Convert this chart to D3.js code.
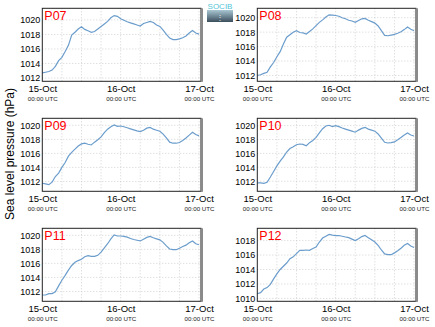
<!DOCTYPE html>
<html><head><meta charset="utf-8">
<script src="https://cdn.jsdelivr.net/npm/d3@7"></script>
<style>body{margin:0;background:#fff}svg{display:block}</style>
</head><body>
<svg id="c" width="435" height="327"></svg>
<script>
const stations = ["P07","P08","P09","P10","P11","P12"];
const hours = d3.range(0, 49); // hourly from 15-Oct 00:00 UTC
const p07 = [1012.7,1012.8,1012.9,1013.1,1013.6,1014.4,1014.85,1015.65,1016.5,1017.9,1018.3,1018.75,1019.05,1018.7,1018.5,1018.3,1018.4,1018.75,1019.1,1019.45,1019.8,1020.3,1020.6,1020.5,1020.15,1019.95,1019.75,1019.6,1019.45,1019.3,1019.15,1019.5,1019.65,1019.8,1019.65,1019.3,1019.1,1018.6,1018.0,1017.5,1017.3,1017.3,1017.4,1017.55,1017.8,1018.2,1018.55,1018.2,1018.05];
const p08 = [1012.0,1012.1,1012.3,1012.45,1013.2,1013.8,1014.6,1015.3,1016.35,1017.3,1017.65,1018.0,1018.2,1017.95,1017.9,1017.75,1018.1,1018.45,1018.9,1019.35,1019.7,1020.1,1020.4,1020.35,1020.3,1020.2,1020.0,1019.85,1019.65,1019.55,1019.35,1019.6,1019.85,1019.9,1019.65,1019.45,1019.25,1018.85,1018.2,1017.55,1017.5,1017.6,1017.7,1017.85,1018.05,1018.35,1018.7,1018.4,1018.2];
const p09 = [1011.75,1011.65,1011.55,1011.9,1012.7,1013.2,1014.0,1014.7,1015.6,1016.15,1016.6,1017.05,1017.35,1017.45,1017.3,1017.2,1017.6,1017.95,1018.35,1018.95,1019.45,1019.8,1020.05,1019.85,1019.9,1019.8,1019.65,1019.5,1019.35,1019.2,1019.1,1019.3,1019.6,1019.7,1019.45,1019.3,1019.15,1018.75,1018.2,1017.6,1017.45,1017.45,1017.55,1017.85,1018.2,1018.6,1019.0,1018.7,1018.5];
const p10 = [1011.75,1011.75,1011.7,1011.85,1012.6,1013.4,1014.2,1014.9,1015.5,1016.2,1016.7,1016.95,1017.25,1017.35,1017.3,1017.1,1017.55,1017.85,1018.3,1018.95,1019.55,1019.95,1020.05,1019.85,1020.0,1019.85,1019.65,1019.5,1019.35,1019.2,1019.05,1019.35,1019.6,1019.75,1019.5,1019.35,1019.2,1018.8,1018.2,1017.6,1017.5,1017.55,1017.65,1017.95,1018.3,1018.65,1018.95,1018.65,1018.5];
const p11 = [1011.5,1011.5,1011.7,1011.7,1011.95,1012.8,1013.6,1014.3,1015.05,1015.7,1016.15,1016.4,1016.6,1016.95,1017.1,1017.0,1017.0,1017.15,1017.6,1018.2,1018.8,1019.5,1020.05,1019.9,1019.9,1019.85,1019.75,1019.55,1019.4,1019.3,1019.2,1019.45,1019.7,1019.85,1019.65,1019.5,1019.35,1019.0,1018.5,1018.05,1017.95,1017.95,1018.15,1018.4,1018.6,1018.95,1019.2,1018.8,1018.65];
const p12 = [1010.65,1010.8,1011.3,1011.5,1011.95,1012.7,1013.4,1014.0,1014.45,1014.9,1015.5,1015.75,1016.2,1016.65,1016.65,1016.7,1016.65,1016.9,1017.1,1017.8,1018.35,1018.6,1018.85,1018.75,1018.7,1018.7,1018.6,1018.5,1018.4,1018.2,1018.0,1018.25,1018.55,1018.7,1018.4,1018.1,1017.8,1017.35,1016.7,1016.15,1016.05,1016.05,1016.3,1016.6,1016.95,1017.35,1017.6,1017.25,1017.05];
const series = [p07,p08,p09,p10,p11,p12];
const yDomains = [[1011.55,1021.6],[1011.2,1021.3],[1010.6,1021.0],[1010.55,1021.05],[1010.6,1021.0],[1009.6,1019.7]];
const yTicks = [[1012,1014,1016,1018,1020],[1012,1014,1016,1018,1020],[1012,1014,1016,1018,1020],[1012,1014,1016,1018,1020],[1012,1014,1016,1018,1020],[1010,1012,1014,1016,1018]];
const xTickLabels = ["15-Oct","16-Oct","17-Oct"];
const xTickSub = "00:00 UTC";
const yTitle = "Sea level pressure (hPa)";

const t0 = Date.UTC(2013, 9, 15);
const H = 3600e3;
const svg = d3.select("#c");
const font = "Liberation Sans, Arial, sans-serif";

const defs = svg.append("defs");
const lg = defs.append("linearGradient").attr("id","lg").attr("x1",0).attr("y1",0).attr("x2",0).attr("y2",1);
lg.append("stop").attr("offset","0%").attr("stop-color","#a9c6d3");
lg.append("stop").attr("offset","100%").attr("stop-color","#3b4e5c");

const W = 158.7, Hh = 73;
const lefts = [42.3, 257.3], tops = [8.3, 118.3, 228.3];

stations.forEach((name, i) => {
  const col = i % 2, row = Math.floor(i / 2);
  const g = svg.append("g").attr("transform", `translate(${lefts[col]},${tops[row]})`);
  const x = d3.scaleUtc().domain([new Date(t0), new Date(t0 + 48.6 * H)]).range([0, W]);
  const y = d3.scaleLinear().domain(yDomains[i]).range([Hh, 0]);
  // grid
  const vg = d3.range(6, 48.1, 6).map(h => new Date(t0 + h * H));
  g.selectAll(".vg").data(vg).join("line")
    .attr("x1", d => x(d)).attr("x2", d => x(d)).attr("y1", 0).attr("y2", Hh)
    .attr("stroke", "#c8c8c8").attr("stroke-width", 0.8).attr("stroke-dasharray", "1,2");
  g.selectAll(".hg").data(yTicks[i]).join("line")
    .attr("x1", 0).attr("x2", W).attr("y1", d => y(d)).attr("y2", d => y(d))
    .attr("stroke", "#c8c8c8").attr("stroke-width", 0.8).attr("stroke-dasharray", "1,2");
  // line
  const data = hours.map((h, k) => ({t: new Date(t0 + h * H), v: series[i][k]}));
  g.append("path").datum(data)
    .attr("fill", "none").attr("stroke", "#6b9dcc").attr("stroke-width", 1.2)
    .attr("d", d3.line().x(d => x(d.t)).y(d => y(d.v)));
  // frame
  g.append("rect").attr("x", 0).attr("y", 0).attr("width", W).attr("height", Hh)
    .attr("fill", "none").attr("stroke", "#222").attr("stroke-width", 1);
  g.append("line").attr("x1", W + 0.8).attr("x2", W + 0.8).attr("y1", 0).attr("y2", Hh + 0.5)
    .attr("stroke", "#8a8a8a").attr("stroke-width", 2.4);
  // y axis
  const ya = d3.axisLeft(y).tickValues(yTicks[i]).tickSize(0).tickPadding(2).tickFormat(d3.format("d"));
  const yg = g.append("g").call(ya);
  yg.select(".domain").remove();
  yg.selectAll("text").attr("font-size", 9).attr("font-family", font).attr("fill", "#000");
  // x axis
  const xt = [0, 24, 48].map(h => new Date(t0 + h * H));
  const xa = d3.axisBottom(x).tickValues(xt).tickSize(0).tickPadding(0).tickFormat((d, k) => xTickLabels[k]);
  const xg = g.append("g").attr("transform", `translate(0,${Hh})`).call(xa);
  xg.select(".domain").remove();
  xg.selectAll("text").attr("font-size", 9.5).attr("font-family", font).attr("fill", "#000").attr("dy", null).attr("y", 11);
  xg.selectAll(".tick").append("text").attr("y", 20).attr("text-anchor", "middle")
    .attr("font-size", 6.2).attr("font-family", font).attr("fill", "#222").text(xTickSub);
  // station label
  g.append("text").attr("x", 2).attr("y", 12).attr("font-size", 12.5).attr("font-family", font)
    .attr("fill", "#ff0000").text(name);
});

svg.append("text").attr("transform", "translate(14,154) rotate(-90)")
  .attr("text-anchor", "middle").attr("font-size", 12).attr("font-family", font).attr("fill", "#000")
  .text(yTitle);

// logo
const lgG = svg.append("g");
lgG.append("rect").attr("x", 207).attr("y", 10).attr("width", 26).attr("height", 12).attr("fill", "url(#lg)");
lgG.append("text").attr("x", 220).attr("y", 9).attr("text-anchor", "middle").attr("font-size", 8)
  .attr("font-family", font).attr("fill", "#52c4d6").text("SOCIB");
lgG.append("text").attr("x", 220).attr("y", 20).attr("text-anchor", "middle").attr("font-size", 8)
  .attr("font-family", font).attr("fill", "#ffffff").attr("opacity", 0.8).text("⋮");
</script>
</body></html>
